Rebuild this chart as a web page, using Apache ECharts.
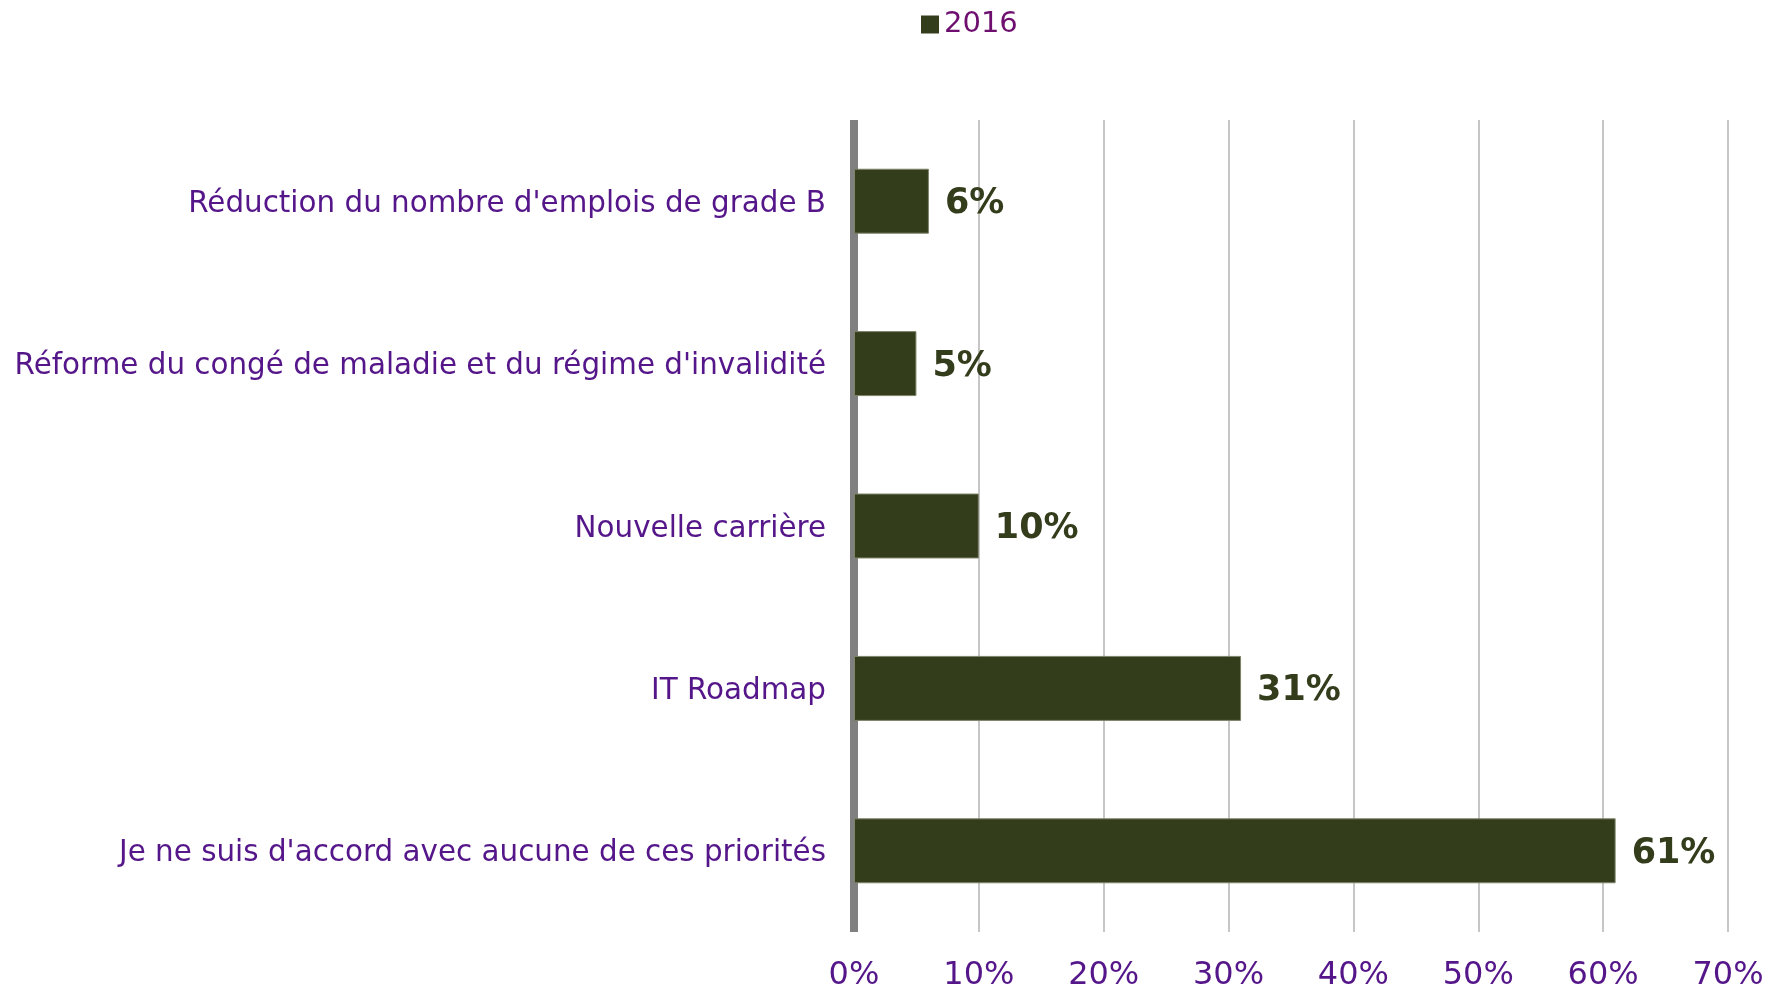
<!DOCTYPE html>
<html>
<head>
<meta charset="utf-8">
<script src="https://cdn.jsdelivr.net/npm/echarts@6/dist/echarts.min.js"></script>
<style>html,body{margin:0;padding:0;background:#fff;}#c{width:1782px;height:992px;}</style>
</head>
<body>
<div id="c"></div>
<script>
const categories = [
  "Réduction du nombre d'emplois de grade B",
  "Réforme du congé de maladie et du régime d'invalidité",
  "Nouvelle carrière",
  "IT Roadmap",
  "Je ne suis d'accord avec aucune de ces priorités"
];
const seriesName = "2016";
const values2016 = [6, 5, 10, 31, 61];
const xTicks = [0, 10, 20, 30, 40, 50, 60, 70];

const FONT = "Verdana, 'DejaVu Sans', sans-serif";
const chart = echarts.init(document.getElementById('c'), null, {renderer: 'canvas'});
chart.setOption({
  animation: false,
  backgroundColor: '#ffffff',
  legend: {
    data: [seriesName],
    left: 916, top: 5,
    itemWidth: 18, itemHeight: 18, itemGap: 8,
    icon: 'rect',
    itemStyle: {borderWidth: 0},
    textStyle: {color: '#6e0f70', fontSize: 29, fontFamily: FONT}
  },
  grid: {left: 854, right: 54, top: 120, bottom: 60, containLabel: false},
  xAxis: {
    type: 'value', min: xTicks[0], max: xTicks[xTicks.length - 1], interval: 10,
    axisLine: {show: false}, axisTick: {show: false},
    splitLine: {show: true, lineStyle: {color: '#c6c6c6', width: 2}},
    axisLabel: {formatter: '{value}%', color: '#55168a', fontSize: 32, fontFamily: FONT, margin: 28}
  },
  yAxis: {
    type: 'category', data: categories, inverse: true,
    axisLine: {show: true, lineStyle: {color: '#808080', width: 8, cap: 'butt'}},
    axisTick: {show: false},
    axisLabel: {
      formatter: function (v) { return '{a|' + v + '}'; },
      margin: 28,
      rich: {a: {color: '#55168a', fontSize: 29.4, fontFamily: FONT, padding: [6, 0, 0, 0]}}
    }
  },
  series: [{
    name: seriesName, type: 'bar', data: values2016,
    barCategoryGap: '60%',
    itemStyle: {color: '#333d1c', borderColor: '#7d8468', borderWidth: 1},
    label: {
      show: true, position: 'right', distance: 16, formatter: '{c}%', offset: [0, 3],
      color: '#333d1c', fontWeight: 'bold', fontSize: 35, fontFamily: FONT
    }
  }]
});
</script>
</body>
</html>
